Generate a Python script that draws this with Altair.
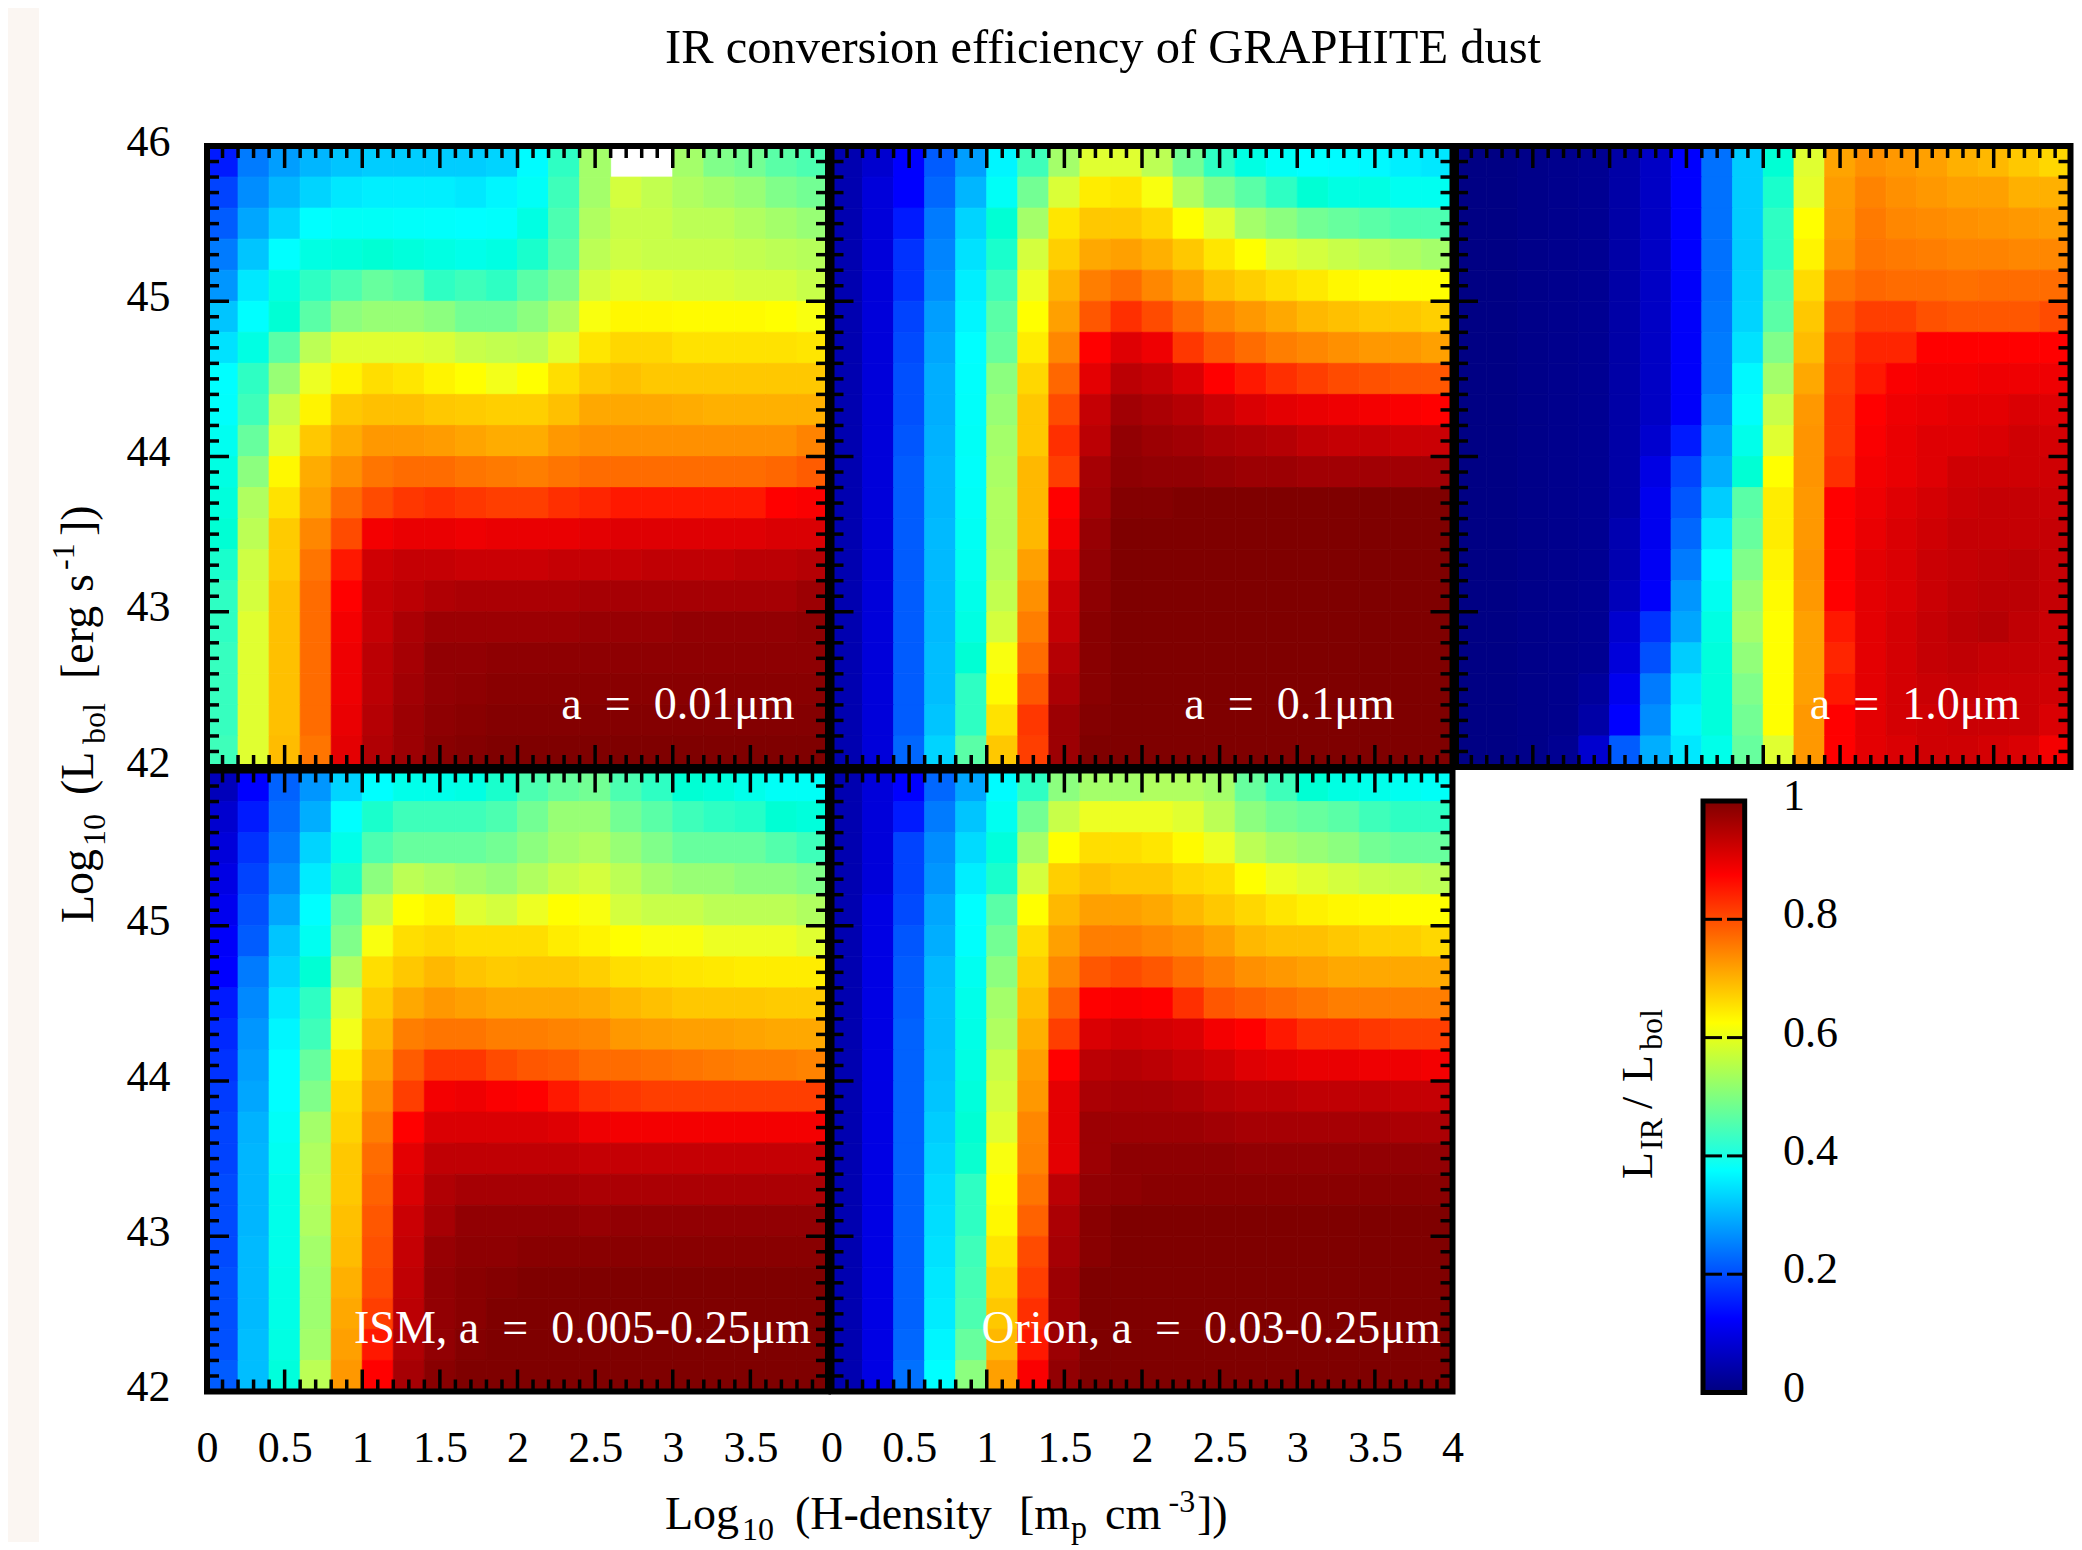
import altair as alt
import pandas as pd

FONT = "Liberation Serif"
STOPS = [0, 0.125, 0.375, 0.625, 0.875, 1]
COLORS = ["#00007f", "#0000ff", "#00ffff", "#ffff00", "#ff0000", "#7f0000"]
MAJOR_X = [0.5, 1, 1.5, 2, 2.5, 3, 3.5]
MINOR_X = [0.1, 0.2, 0.3, 0.4, 0.6, 0.7, 0.8, 0.9, 1.1, 1.2, 1.3, 1.4, 1.6, 1.7, 1.8, 1.9,
           2.1, 2.2, 2.3, 2.4, 2.6, 2.7, 2.8, 2.9, 3.1, 3.2, 3.3, 3.4, 3.6, 3.7, 3.8, 3.9]
MAJOR_Y = [43, 44, 45]
MINOR_Y = [42.1, 42.2, 42.3, 42.4, 42.5, 42.6, 42.7, 42.8, 42.9,
           43.1, 43.2, 43.3, 43.4, 43.5, 43.6, 43.7, 43.8, 43.9,
           44.1, 44.2, 44.3, 44.4, 44.5, 44.6, 44.7, 44.8, 44.9,
           45.1, 45.2, 45.3, 45.4, 45.5, 45.6, 45.7, 45.8, 45.9]
BAR_TICKS = [0.2, 0.4, 0.6, 0.8]
BAR_LABELS = [0, 0.2, 0.4, 0.6, 0.8, 1]

# rows run from the top of each panel (46) to its bottom (42); columns from 0 to 4
P1 = [
 [.13,.2,.24,.27,.29,.30,.30,.30,.30,.31,.37,.46,.55,None,None,.55,.52,.51,.49,.48],
 [.15,.22,.27,.31,.34,.35,.35,.35,.34,.36,.39,.47,.55,.59,.575,.56,.55,.54,.52,.51],
 [.17,.25,.31,.375,.39,.39,.385,.38,.375,.38,.42,.48,.56,.58,.58,.57,.57,.56,.55,.54],
 [.2,.29,.375,.42,.43,.44,.43,.42,.41,.42,.45,.49,.57,.585,.58,.58,.58,.575,.57,.565],
 [.23,.34,.42,.46,.48,.5,.49,.46,.47,.46,.49,.52,.59,.605,.6,.595,.595,.59,.59,.58],
 [.29,.375,.44,.49,.53,.54,.54,.53,.51,.51,.53,.56,.62,.635,.635,.63,.63,.63,.625,.62],
 [.33,.42,.49,.57,.6,.6,.6,.595,.58,.575,.57,.6,.66,.68,.68,.665,.665,.665,.665,.66],
 [.375,.46,.54,.61,.64,.67,.66,.64,.625,.615,.625,.67,.7,.71,.7,.7,.7,.7,.7,.7],
 [.38,.47,.58,.64,.7,.71,.71,.7,.695,.69,.69,.71,.74,.74,.74,.735,.73,.73,.73,.73],
 [.4,.5,.6,.7,.735,.76,.76,.755,.745,.735,.735,.76,.77,.77,.77,.77,.77,.77,.77,.785],
 [.42,.53,.635,.735,.77,.8,.81,.81,.8,.795,.79,.8,.81,.81,.81,.81,.81,.81,.815,.825],
 [.43,.56,.665,.75,.81,.84,.855,.86,.855,.85,.85,.86,.865,.87,.87,.87,.87,.87,.875,.88],
 [.44,.57,.695,.78,.84,.885,.895,.895,.89,.895,.895,.895,.9,.905,.905,.905,.905,.905,.91,.91],
 [.45,.585,.695,.8,.87,.92,.93,.93,.925,.925,.925,.93,.93,.93,.935,.935,.935,.94,.94,.945],
 [.46,.59,.71,.81,.875,.93,.94,.95,.955,.955,.955,.955,.96,.96,.96,.96,.96,.96,.96,.97],
 [.46,.6,.71,.81,.885,.93,.955,.97,.97,.97,.97,.97,.975,.975,.975,.98,.98,.98,.98,.985],
 [.465,.6,.71,.81,.89,.94,.96,.98,.98,.985,.985,.985,.985,.985,.985,.985,.985,.985,.985,.985],
 [.465,.6,.71,.81,.89,.94,.965,.98,.985,.99,.99,.99,.99,.99,.99,.99,.99,.99,.99,.99],
 [.465,.6,.71,.81,.895,.945,.97,.985,.99,.995,.995,.995,.995,.995,.995,.995,.995,.995,.995,.995],
 [.47,.6,.715,.8,.9,.95,.97,.99,.995,1,1,1,1,1,1,1,1,1,1,1],
]
P2 = [
 [.05,.08,.125,.17,.24,.36,.47,.55,.6,.6,.57,.51,.46,.42,.39,.375,.37,.365,.35,.34],
 [.05,.09,.125,.18,.27,.39,.51,.595,.65,.66,.62,.56,.52,.49,.46,.44,.42,.42,.40,.40],
 [.05,.09,.13,.2,.31,.44,.55,.66,.7,.7,.68,.625,.6,.55,.53,.51,.5,.49,.48,.48],
 [.05,.09,.14,.21,.33,.45,.59,.69,.74,.75,.73,.7,.66,.625,.6,.59,.58,.57,.56,.55],
 [.05,.09,.14,.22,.35,.47,.61,.725,.79,.81,.78,.75,.71,.69,.67,.655,.635,.625,.625,.625],
 [.05,.09,.15,.24,.36,.49,.625,.75,.83,.86,.84,.81,.78,.76,.74,.72,.71,.7,.7,.69],
 [.05,.09,.155,.25,.375,.5,.65,.78,.875,.905,.89,.855,.83,.81,.79,.78,.77,.76,.76,.75],
 [.05,.09,.16,.26,.38,.53,.68,.815,.9,.94,.93,.91,.875,.87,.86,.85,.84,.835,.83,.83],
 [.05,.09,.16,.26,.385,.54,.7,.84,.93,.965,.955,.945,.925,.91,.9,.895,.89,.885,.88,.875],
 [.05,.09,.165,.265,.39,.55,.7,.86,.94,.98,.97,.965,.955,.95,.945,.935,.93,.93,.925,.925],
 [.05,.09,.17,.27,.385,.555,.72,.85,.96,.985,.98,.98,.975,.97,.97,.965,.965,.965,.965,.965],
 [.05,.09,.17,.27,.39,.56,.72,.875,.965,.995,.995,1,1,1,1,1,1,1,1,1],
 [.05,.09,.17,.275,.395,.56,.72,.885,.975,1,1,1,1,1,1,1,1,1,1,1],
 [.05,.09,.17,.275,.4,.565,.75,.905,.98,1,1,1,1,1,1,1,1,1,1,1],
 [.05,.09,.17,.275,.41,.575,.77,.925,.985,1,1,1,1,1,1,1,1,1,1,1],
 [.05,.09,.17,.275,.42,.59,.79,.93,.99,1,1,1,1,1,1,1,1,1,1,1],
 [.05,.09,.17,.28,.44,.62,.81,.945,.99,1,1,1,1,1,1,1,1,1,1,1],
 [.05,.09,.17,.28,.46,.63,.83,.955,.99,1,1,1,1,1,1,1,1,1,1,1],
 [.05,.09,.17,.29,.46,.665,.855,.97,.995,1,1,1,1,1,1,1,1,1,1,1],
 [.05,.09,.18,.31,.49,.7,.85,.97,1,1,1,1,1,1,1,1,1,1,1,1],
]
P3 = [
 [.005,.005,.01,.015,.02,.04,.07,.125,.19,.3,.44,.6,.745,.77,.76,.75,.73,.72,.7,.68],
 [.005,.005,.01,.015,.02,.04,.07,.125,.19,.3,.45,.605,.755,.785,.77,.76,.75,.75,.73,.73],
 [.005,.005,.01,.015,.02,.04,.07,.125,.19,.3,.46,.625,.76,.795,.78,.775,.77,.765,.76,.755],
 [.005,.005,.01,.015,.02,.04,.07,.125,.19,.3,.46,.64,.77,.8,.795,.79,.785,.785,.78,.78],
 [.005,.005,.01,.015,.02,.04,.07,.12,.19,.305,.48,.675,.8,.815,.81,.81,.805,.81,.81,.81],
 [.005,.005,.01,.015,.02,.04,.07,.12,.195,.31,.49,.7,.83,.85,.85,.835,.83,.83,.83,.84],
 [.005,.005,.01,.015,.02,.04,.07,.12,.2,.33,.52,.715,.845,.865,.865,.875,.875,.875,.875,.875],
 [.005,.005,.01,.015,.02,.04,.07,.12,.2,.365,.55,.74,.85,.87,.88,.885,.885,.89,.89,.89],
 [.005,.005,.01,.015,.02,.04,.07,.12,.215,.38,.58,.76,.855,.875,.89,.895,.9,.9,.91,.905],
 [.005,.005,.01,.015,.02,.04,.08,.13,.24,.41,.6,.765,.855,.88,.895,.905,.905,.91,.92,.915],
 [.005,.005,.01,.015,.02,.04,.1,.15,.26,.44,.625,.765,.86,.885,.895,.905,.92,.92,.92,.92],
 [.005,.005,.01,.015,.02,.04,.11,.165,.3,.49,.65,.76,.875,.89,.905,.915,.925,.93,.93,.925],
 [.005,.005,.01,.015,.02,.05,.11,.18,.34,.5,.65,.76,.875,.895,.91,.92,.93,.93,.93,.93],
 [.005,.005,.01,.015,.02,.05,.115,.2,.375,.52,.64,.765,.875,.9,.91,.925,.93,.935,.94,.93],
 [.005,.005,.01,.015,.02,.06,.12,.23,.4,.54,.63,.76,.875,.9,.91,.925,.935,.94,.94,.93],
 [.005,.005,.01,.015,.02,.08,.14,.25,.42,.55,.625,.75,.87,.9,.915,.93,.94,.945,.935,.925],
 [.005,.005,.01,.015,.02,.09,.16,.3,.43,.535,.625,.75,.865,.9,.915,.93,.935,.93,.93,.925],
 [.005,.005,.01,.015,.03,.11,.2,.34,.43,.52,.625,.75,.87,.9,.915,.925,.93,.925,.925,.92],
 [.005,.005,.01,.015,.04,.125,.22,.36,.43,.51,.625,.76,.875,.9,.915,.92,.925,.925,.925,.91],
 [.005,.005,.01,.02,.08,.17,.26,.34,.41,.5,.6,.76,.875,.9,.91,.92,.92,.915,.91,.885],
]
P4 = [
 [.06,.125,.175,.23,.31,.375,.41,.41,.42,.45,.48,.5,.51,.48,.46,.44,.43,.41,.39,.39],
 [.08,.13,.185,.26,.375,.45,.47,.47,.47,.48,.51,.54,.54,.51,.49,.47,.46,.455,.44,.43],
 [.09,.14,.2,.31,.41,.48,.5,.5,.5,.51,.53,.55,.56,.54,.52,.5,.5,.5,.485,.47],
 [.1,.15,.22,.345,.45,.53,.57,.56,.55,.54,.56,.58,.59,.57,.55,.54,.54,.53,.53,.52],
 [.11,.16,.25,.375,.5,.58,.625,.64,.6,.59,.61,.625,.62,.59,.58,.58,.57,.57,.57,.56],
 [.12,.17,.29,.4,.52,.62,.67,.68,.67,.67,.67,.65,.64,.625,.62,.62,.61,.61,.61,.6],
 [.125,.2,.31,.44,.56,.67,.7,.72,.705,.695,.7,.7,.69,.67,.665,.66,.655,.65,.65,.65],
 [.13,.215,.34,.46,.6,.695,.74,.76,.75,.74,.74,.74,.735,.72,.71,.7,.7,.7,.695,.695],
 [.135,.23,.36,.47,.615,.72,.79,.8,.8,.79,.79,.785,.78,.76,.755,.75,.75,.745,.74,.74],
 [.14,.24,.375,.5,.65,.745,.825,.855,.855,.84,.83,.825,.81,.81,.805,.8,.795,.79,.79,.785],
 [.145,.25,.375,.52,.675,.77,.85,.885,.89,.88,.875,.87,.86,.855,.85,.85,.85,.85,.85,.85],
 [.15,.265,.39,.55,.685,.79,.875,.91,.91,.91,.91,.905,.89,.885,.885,.885,.885,.885,.885,.885],
 [.15,.27,.4,.56,.7,.81,.9,.935,.935,.935,.935,.935,.93,.93,.93,.93,.93,.93,.93,.93],
 [.155,.27,.41,.565,.7,.82,.91,.95,.96,.96,.96,.96,.955,.955,.955,.955,.955,.955,.955,.955],
 [.155,.27,.41,.56,.71,.83,.925,.96,.98,.98,.98,.98,.975,.98,.98,.98,.98,.98,.98,.98],
 [.155,.275,.41,.55,.715,.835,.93,.975,.985,.985,.99,.99,.99,.99,.99,.99,.99,.99,.99,.99],
 [.16,.275,.415,.545,.73,.84,.935,.98,.99,.995,1,1,1,1,1,1,1,1,1,1],
 [.16,.275,.415,.545,.74,.85,.94,.98,.99,1,1,1,1,1,1,1,1,1,1,1],
 [.16,.28,.42,.55,.75,.87,.95,.98,.995,1,1,1,1,1,1,1,1,1,1,1],
 [.17,.28,.43,.57,.76,.875,.96,.99,1,1,1,1,1,1,1,1,1,1,1,1],
]
P5 = [
 [.05,.09,.125,.18,.25,.37,.46,.53,.55,.55,.56,.56,.55,.5,.47,.44,.42,.41,.4,.39],
 [.05,.09,.13,.2,.29,.4,.51,.58,.61,.61,.61,.6,.57,.53,.51,.5,.49,.47,.46,.46],
 [.05,.09,.15,.22,.32,.43,.55,.625,.67,.67,.66,.63,.61,.57,.55,.54,.53,.51,.5,.5],
 [.05,.09,.15,.23,.35,.45,.59,.69,.71,.7,.7,.68,.67,.625,.61,.6,.59,.58,.575,.57],
 [.05,.1,.155,.25,.375,.49,.625,.72,.75,.75,.74,.72,.7,.68,.66,.645,.635,.63,.625,.625],
 [.05,.1,.165,.26,.38,.51,.67,.75,.79,.79,.78,.77,.75,.72,.71,.71,.7,.69,.69,.68],
 [.05,.1,.17,.275,.4,.53,.69,.78,.83,.84,.83,.81,.79,.77,.76,.75,.74,.74,.74,.74],
 [.05,.1,.17,.28,.41,.55,.71,.82,.875,.88,.875,.86,.83,.82,.81,.8,.79,.79,.79,.79],
 [.05,.1,.175,.28,.415,.56,.73,.85,.91,.92,.915,.91,.885,.875,.87,.86,.86,.855,.85,.85],
 [.05,.1,.175,.285,.42,.58,.75,.875,.94,.945,.94,.93,.92,.905,.9,.895,.895,.89,.89,.885],
 [.05,.1,.175,.29,.43,.59,.76,.9,.955,.96,.96,.955,.945,.94,.94,.935,.935,.935,.93,.93],
 [.05,.1,.175,.3,.44,.6,.78,.9,.97,.97,.97,.97,.965,.96,.96,.96,.96,.96,.955,.955],
 [.05,.1,.175,.31,.445,.62,.785,.9,.97,.985,.985,.985,.985,.98,.98,.98,.98,.98,.98,.98],
 [.05,.1,.175,.32,.46,.625,.8,.94,.98,.985,.99,.99,.99,.99,.99,.99,.99,.99,.99,.99],
 [.05,.1,.175,.325,.46,.635,.82,.955,.99,1,1,1,1,1,1,1,1,1,1,1],
 [.05,.1,.175,.33,.47,.66,.84,.96,.99,1,1,1,1,1,1,1,1,1,1,1],
 [.05,.1,.175,.34,.475,.68,.85,.97,1,1,1,1,1,1,1,1,1,1,1,1],
 [.05,.1,.175,.345,.48,.7,.86,.97,1,1,1,1,1,1,1,1,1,1,1,1],
 [.05,.1,.18,.36,.5,.72,.87,.97,1,1,1,1,1,1,1,1,1,1,1,1],
 [.05,.1,.19,.375,.53,.75,.88,.98,1,1,1,1,1,1,1,1,1,1,1,1],
]

W, H = 621, 621
W3 = 614.5   # the last column stops at the page's right margin
GAP = 3.5
XS = alt.Scale(domain=[0, 4], nice=False, zero=False)
YS = alt.Scale(domain=[42, 46], nice=False, zero=False)
CS = alt.Scale(domain=STOPS, range=COLORS)
ONE = pd.DataFrame({"x0": [0], "x1": [4], "y0": [42], "y1": [46]})


def label(text, x, y, size=46, color="black", angle=0, align="left"):
    return alt.Chart(ONE).mark_text(
        text=text, font=FONT, fontSize=size, color=color, angle=angle,
        align=align, baseline="alphabetic",
    ).encode(x=alt.value(x), y=alt.value(y))


def panel(rows, xvals=None, yvals=None, w=W):
    recs = []
    for r, row in enumerate(rows):
        assert len(row) == 20
        for c, v in enumerate(row):
            if v is not None:
                recs.append({"x0": c * 0.2, "x1": (c + 1) * 0.2,
                             "y1": 46 - r * 0.2, "y0": 46 - (r + 1) * 0.2, "v": v})
    xaxis = None
    if xvals:
        xaxis = alt.Axis(values=xvals, title=None, ticks=False, domain=False, grid=False,
                         labelFont=FONT, labelFontSize=44, labelColor="black", labelPadding=35,
                         format="~g", labelFlush=False, labelOverlap=False)
    yaxis = None
    if yvals:
        yaxis = alt.Axis(values=yvals, title=None, ticks=False, domain=False, grid=False,
                         labelFont=FONT, labelFontSize=44, labelColor="black", labelPadding=37,
                         format="d", labelFlush=False, labelOverlap=False, labelOffset=-4,
                         labelBaseline="middle")
    heat = alt.Chart(pd.DataFrame(recs)).mark_rect(strokeWidth=0.8).encode(
        x=alt.X("x0:Q", scale=XS, axis=xaxis),
        x2="x1:Q",
        y=alt.Y("y0:Q", scale=YS, axis=yaxis),
        y2="y1:Q",
        color=alt.Color("v:Q", scale=CS, legend=None),
        stroke=alt.Stroke("v:Q", scale=CS, legend=None),
    )
    layers = [heat]
    for vals, ln in ((MAJOR_X, 22), (MINOR_X, 12)):
        d = alt.Chart(pd.DataFrame({"t": vals})).mark_rule(color="black", strokeWidth=3.5)
        layers.append(d.encode(x=alt.X("t:Q", scale=XS, axis=xaxis), y=alt.value(0), y2=alt.value(ln)))
        layers.append(d.encode(x=alt.X("t:Q", scale=XS, axis=xaxis), y=alt.value(H), y2=alt.value(H - ln)))
    for vals, ln in ((MAJOR_Y, 22), (MINOR_Y, 12)):
        d = alt.Chart(pd.DataFrame({"t": vals})).mark_rule(color="black", strokeWidth=3.5)
        layers.append(d.encode(y=alt.Y("t:Q", scale=YS, axis=yaxis), x=alt.value(0), x2=alt.value(ln)))
        layers.append(d.encode(y=alt.Y("t:Q", scale=YS, axis=yaxis), x=alt.value(w), x2=alt.value(w - ln)))
    frame = alt.Chart(ONE).mark_rect(fillOpacity=0, stroke="black", strokeWidth=6).encode(
        x=alt.X("x0:Q", scale=XS, axis=xaxis), x2="x1:Q",
        y=alt.Y("y0:Q", scale=YS, axis=yaxis), y2="y1:Q")
    layers.append(frame)
    return layers


X0, X1, X2 = 207, 831.5, 1456
Y0, Y1 = 146, 770.5
NB = "\u00a0\u00a0"


def ylab(text, x, y, size=46):
    return label(text, x - X0, y - Y0, size=size, angle=270)


strip = alt.Chart(ONE).mark_rect(color="#fbf6f2").encode(
    x=alt.value(8 - X0), x2=alt.value(39 - X0), y=alt.value(8 - Y0), y2=alt.value(1542 - Y0))

l1 = panel(P1, yvals=[42, 43, 44, 45, 46])
p1 = alt.layer(strip, *l1,
               label(f"a{NB}={NB}0.01μm", 471, 573, color="white", align="center"),
               ylab("Log", 93, 923), ylab("10", 105, 846, 32),
               ylab("(L", 93, 795), ylab("bol", 105, 744, 32),
               ylab("[erg", 93, 679), ylab("s", 93, 592),
               ylab("-1", 74, 570, 32), ylab("])", 93, 536),
               ).properties(width=W, height=H)
p2 = alt.layer(*panel(P2),
               label(f"a{NB}={NB}0.1μm", 458, 573, color="white", align="center"),
               label("IR conversion efficiency of GRAPHITE dust", 1103 - X1, 63 - Y0, size=48.5, align="center"),
               ).properties(width=W, height=H)
p3 = alt.layer(*panel(P3, w=W3),
               label(f"a{NB}={NB}1.0μm", 459, 573, color="white", align="center"),
               ).properties(width=W3, height=H)
p4 = alt.layer(*panel(P4, xvals=[0] + MAJOR_X, yvals=[42, 43, 44, 45]),
               label(f"ISM, a{NB}={NB}0.005-0.25μm", 375.5, 572, color="white", align="center"),
               ).properties(width=W, height=H)


def xlab(text, x, y, size=46):
    return label(text, x - X1, y - Y1, size=size)


p5 = alt.layer(*panel(P5, xvals=[0] + MAJOR_X + [4]),
               label(f"Orion, a{NB}={NB}0.03-0.25μm", 379.5, 572, color="white", align="center"),
               xlab("Log", 665, 1528.5), xlab("10", 742, 1539.5, 32),
               xlab("(H-density", 795, 1528.5), xlab("[m", 1019, 1528.5),
               xlab("p", 1071, 1538, 32), xlab("cm", 1105, 1528.5),
               xlab("-3", 1168.6, 1511.5, 32), xlab("])", 1197, 1528.5),
               ).properties(width=W, height=H)

BS = alt.Scale(domain=[0, 1], range=[622, 30.5], nice=False, zero=False)
BAR_L, BAR_R = 247, 288.7
bar = alt.Chart(pd.DataFrame({"a": [0], "b": [1]})).mark_rect(
    stroke="black", strokeWidth=5,
    fill=alt.Gradient(gradient="linear", x1=0, x2=0, y1=1, y2=0,
                      stops=[alt.GradientStop(color=c, offset=o) for c, o in zip(COLORS, STOPS)]),
).encode(y=alt.Y("a:Q", scale=BS, axis=None), y2="b:Q", x=alt.value(BAR_L), x2=alt.value(BAR_R))
tdf = pd.DataFrame({"t": BAR_TICKS})
tl = alt.Chart(tdf).mark_rule(color="black", strokeWidth=3).encode(
    y=alt.Y("t:Q", scale=BS, axis=None), x=alt.value(BAR_L), x2=alt.value(266))
tr = alt.Chart(tdf).mark_rule(color="black", strokeWidth=3).encode(
    y=alt.Y("t:Q", scale=BS, axis=None), x=alt.value(271), x2=alt.value(BAR_R))
tx = alt.Chart(pd.DataFrame({"t": BAR_LABELS, "s": [str(v) for v in BAR_LABELS]})).mark_text(
    font=FONT, fontSize=44, color="black", align="left", baseline="middle", dy=-4,
).encode(y=alt.Y("t:Q", scale=BS, axis=None), x=alt.value(327), text="s:N")


def cblab(text, x, y, size=44):
    return label(text, x - X2, y - Y1, size=size, angle=270)


p6 = alt.layer(bar, tl, tr, tx,
               cblab("L", 1652, 1179), cblab("IR", 1662, 1150, 32),
               cblab("/", 1652, 1109), cblab("L", 1652, 1082), cblab("bol", 1662, 1050, 32),
               ).properties(width=W3, height=H)

chart = alt.ConcatChart(concat=[p1, p2, p3, p4, p5, p6], columns=3, bounds="flush", align="each",
                        spacing=GAP, padding=0, background="white").configure_view(stroke=None)
chart.save("out.html", embed_options={"renderer": "svg", "actions": False})
